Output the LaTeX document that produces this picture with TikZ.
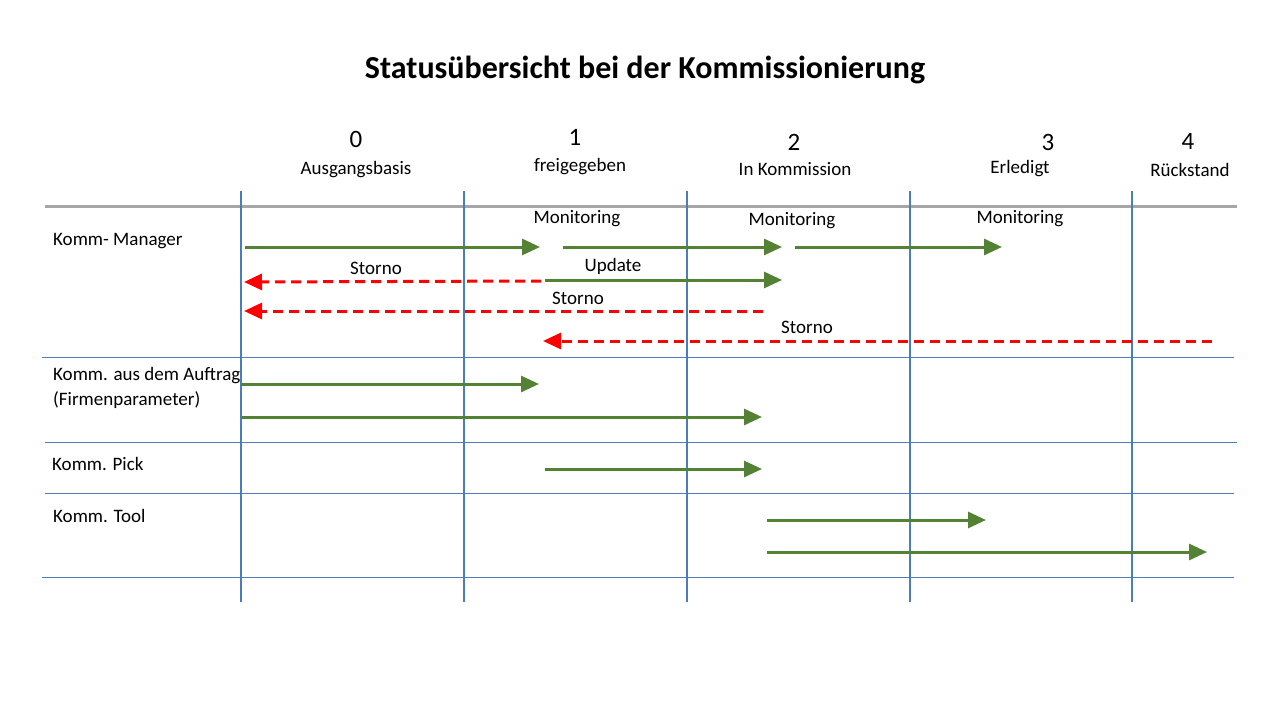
\documentclass[tikz,border=0pt]{standalone}
\usepackage{fontspec}
\setmainfont{Carlito}
\usetikzlibrary{arrows.meta}
\definecolor{gr}{RGB}{84,130,53}
\definecolor{bl}{RGB}{74,126,187}
\definecolor{gy}{RGB}{166,166,166}
\tikzset{
 ga/.style={draw=gr,line width=3pt,-{Triangle[length=18pt,width=16pt]}},
 ra/.style={draw=red,line width=3pt,dash pattern=on 10pt off 6pt,-{Triangle[length=18pt,width=16pt]}},
 lbl/.style={font=\fontsize{19}{22}\selectfont,inner sep=0pt},
 num/.style={font=\fontsize{25}{28}\selectfont,inner sep=0pt},
 vl/.style={draw=bl,line width=1.5pt},
 hl/.style={draw=bl,line width=0.8pt}
}
\begin{document}
\begin{tikzpicture}[x=1pt,y=-1pt]
\useasboundingbox[fill=white] (0,0) rectangle (1280,720);
\node[inner sep=0pt,font=\bfseries\fontsize{32}{36}\selectfont] (title) at (645,70) {Statusübersicht bei der Kommissionierung};
\node[num] (n0) at (356,139) {0};
\node[num] (n1) at (575,137) {1};
\node[num] (n2) at (794,142) {2};
\node[num] (n3) at (1048,142) {3};
\node[num] (n4) at (1188,141) {4};
\node[lbl] (s0) at (356,170) {Ausgangsbasis};
\node[lbl] (s1) at (580,167) {freigegeben};
\node[lbl] (s2) at (795,169) {In Kommission};
\node[lbl] (s3) at (1020,169) {Erledigt};
\node[lbl] (s4) at (1190,170) {Rückstand};
\draw[gy,line width=3pt] (45,206) -- (1237,206);
\foreach \x in {241,464,687,910,1132} \draw[vl] (\x,191) -- (\x,602);
\draw[hl] (42,357) -- (1234,357);
\draw[hl] (45,442) -- (1237,442);
\draw[hl] (45,493) -- (1234,493);
\draw[hl] (42,577) -- (1234,577);
\node[lbl,anchor=west] (r1) at (53,241) {Komm- Manager};
\node[lbl,anchor=west] (r2) at (53,376) {Komm. aus dem Auftrag};
\node[lbl,anchor=west] (r2b) at (53,400) {(Firmenparameter)};
\node[lbl,anchor=west] (r3) at (52,464) {Komm. Pick};
\node[lbl,anchor=west] (r4) at (53,516) {Komm. Tool};
\node[lbl] (m1) at (577,219) {Monitoring};
\node[lbl] (m2) at (792,221) {Monitoring};
\node[lbl] (m3) at (1020,219) {Monitoring};
\node[lbl] (st1) at (376,268) {Storno};
\node[lbl] (up) at (613,266) {Update};
\node[lbl] (st2) at (578,298) {Storno};
\node[lbl] (st3) at (807,327) {Storno};
\coordinate (a1) at (245,247); \coordinate (b1) at (540,247);
\coordinate (a2) at (563,247); \coordinate (b2) at (782,247);
\coordinate (a3) at (795,247); \coordinate (b3) at (1002,247);
\coordinate (a4) at (545,280); \coordinate (b4) at (782,280);
\coordinate (a5) at (241,384); \coordinate (b5) at (539,384);
\coordinate (a6) at (241,417); \coordinate (b6) at (762,417);
\coordinate (a7) at (545,469); \coordinate (b7) at (762,469);
\coordinate (a8) at (767,520); \coordinate (b8) at (986,520);
\coordinate (a9) at (767,552); \coordinate (b9) at (1207,552);
\foreach \i in {1,...,9} \draw[ga] (a\i) -- (b\i);
\coordinate (c1) at (541,281); \coordinate (d1) at (244,282);
\coordinate (c2) at (763,311); \coordinate (d2) at (244,311);
\coordinate (c3) at (1212,341); \coordinate (d3) at (543,341);
\foreach \i in {1,2,3} \draw[ra] (c\i) -- (d\i);
\end{tikzpicture}
\end{document}
